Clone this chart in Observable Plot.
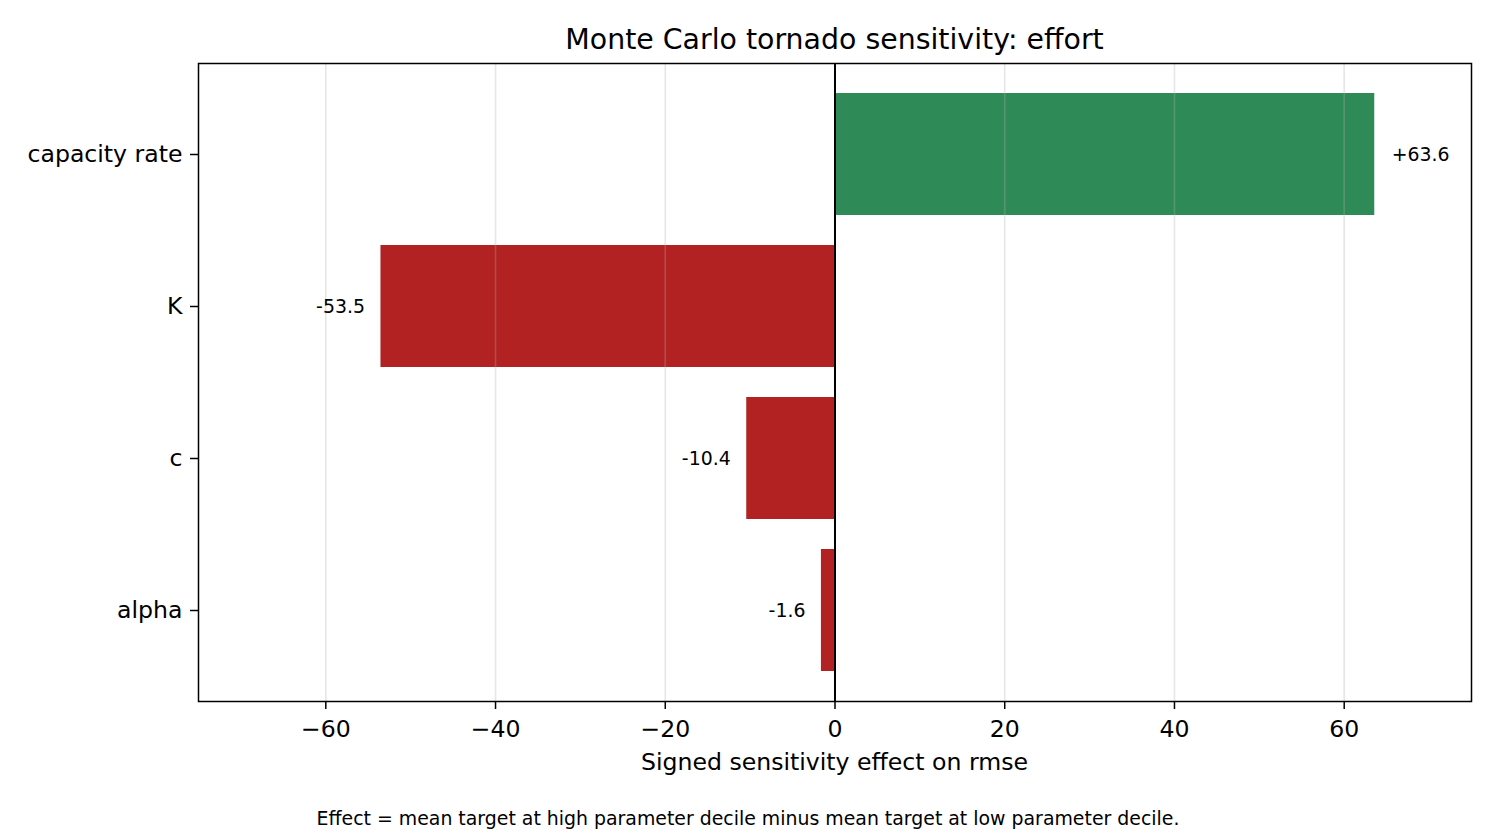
<!DOCTYPE html>
<html>
<head>
<meta charset="utf-8">
<script src="https://cdn.jsdelivr.net/npm/d3@7"></script>
<script src="https://cdn.jsdelivr.net/npm/@observablehq/plot@0.6"></script>
<style>
  html, body { margin: 0; padding: 0; background: #fff; }
  body { width: 1496px; height: 833px; overflow: hidden; font-family: "DejaVu Sans", sans-serif; color: #000; }
  #title { height: 58px; box-sizing: border-box; padding-top: 24px; line-height: 32px; font-size: 28.4px; padding-left: 198px; width: 1471px; text-align: center; white-space: nowrap; }
  #xlabel { margin-top: 4px; line-height: 24px; font-size: 23.6px; padding-left: 198px; width: 1273px; text-align: center; white-space: nowrap; }
  #caption { margin-top: 33px; line-height: 22px; font-size: 18.9px; width: 1496px; text-align: center; white-space: nowrap; }
  #chart svg { display: block; }
</style>
</head>
<body>
<div id="title">Monte Carlo tornado sensitivity: effort</div>
<div id="chart"></div>
<div id="xlabel">Signed sensitivity effect on rmse</div>
<div id="caption">Effect = mean target at high parameter decile minus mean target at low parameter decile.</div>
<script>
const params = ["capacity rate", "K", "c", "alpha"];
const effects = [63.6, -53.5, -10.4, -1.6];
const xTicks = [-60, -40, -20, 0, 20, 40, 60];
const xDomain = [-75, 75];
const posColor = "#2e8b57";
const negColor = "#b22222";

const rows = params.map((p, i) => ({param: p, effect: effects[i]}));
const fmt = v => (v >= 0 ? "+" : "-") + Math.abs(v).toFixed(1);

const chart = Plot.plot({
  width: 1496,
  height: 688,
  marginLeft: 198,
  marginRight: 25,
  marginTop: 5,
  marginBottom: 45,
  style: {fontFamily: "DejaVu Sans, sans-serif", fontSize: "23.6px", color: "#000", background: "#fff"},
  x: {domain: xDomain},
  y: {domain: params, paddingInner: 0.2, paddingOuter: 0.19, align: 0.5},
  marks: [
    Plot.barX(rows, {y: "param", x1: 0, x2: "effect", fill: d => d.effect >= 0 ? posColor : negColor}),
    Plot.gridX(xTicks, {stroke: "#b0b0b0", strokeOpacity: 0.3, strokeWidth: 1.67}),
    Plot.ruleX([0], {stroke: "#000", strokeWidth: 2}),
    Plot.text(rows.filter(d => d.effect >= 0), {y: "param", x: "effect", text: d => fmt(d.effect), textAnchor: "start", dx: 17, fontSize: 18.9, fill: "#000"}),
    Plot.text(rows.filter(d => d.effect < 0), {y: "param", x: "effect", text: d => fmt(d.effect), textAnchor: "end", dx: -16, fontSize: 18.9, fill: "#000"}),
    Plot.frame({stroke: "#000", strokeWidth: 1.5}),
    Plot.axisX({ticks: xTicks, tickSize: 8, tickPadding: 10.5, label: null, strokeWidth: 1.5}),
    Plot.axisY({tickSize: 8, tickPadding: 8, label: null, strokeWidth: 1.5})
  ]
});
document.getElementById("chart").appendChild(chart);
</script>
</body>
</html>
